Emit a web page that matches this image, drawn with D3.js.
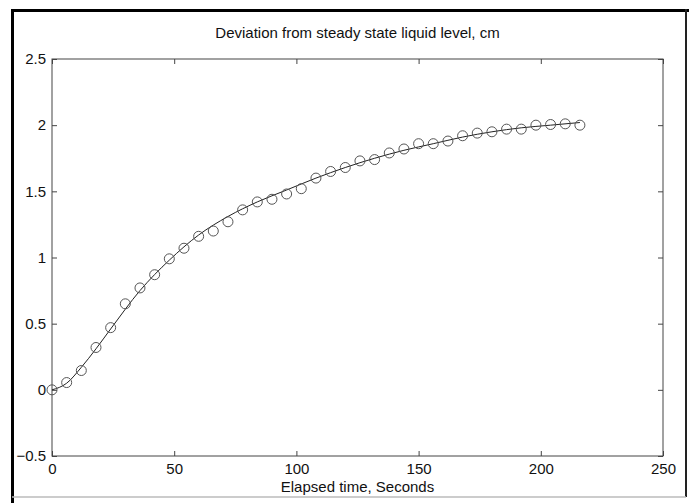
<!DOCTYPE html>
<html>
<head>
<meta charset="utf-8">
<script src="https://cdn.jsdelivr.net/npm/d3@7"></script>
<style>
  body { margin: 0; background: #fff; }
  svg text { font-family: "Liberation Sans", Arial, sans-serif; fill: #111; }
</style>
</head>
<body>
<div id="chart"></div>
<script>
// measured points (every 6 s)
var timePts = [0, 6, 12, 18, 24, 30, 36, 42, 48, 54, 60, 66, 72, 78, 84, 90, 96, 102,
  108, 114, 120, 126, 132, 138, 144, 150, 156, 162, 168, 174, 180, 186, 192, 198, 204, 210, 216];
var levelPts = [0, 0.055, 0.146, 0.32, 0.47, 0.65, 0.77, 0.87, 0.99, 1.07, 1.16, 1.20, 1.27, 1.36, 1.42, 1.44, 1.48, 1.52,
  1.60, 1.65, 1.68, 1.73, 1.74, 1.79, 1.82, 1.86, 1.86, 1.88, 1.92, 1.94, 1.95, 1.97, 1.97, 2.00, 2.005, 2.01, 2.00];

// fitted model curve
var timeFit = [0, 6, 12, 18, 24, 36, 48, 60, 72, 84, 96, 108, 120, 132, 144, 156, 168, 180, 192, 204, 216];
var levelFit = [0, 0.05, 0.17, 0.31, 0.46, 0.75, 0.98, 1.17, 1.31, 1.42, 1.51, 1.60, 1.68, 1.75, 1.81, 1.86, 1.91, 1.95, 1.98, 2.00, 2.02];

var xTicks = [0, 50, 100, 150, 200, 250];
var yTicks = [-0.5, 0, 0.5, 1, 1.5, 2, 2.5];

var width = 689, height = 503;
var margin = { top: 59, right: 26, bottom: 47, left: 52 };
var chartWidth = width - margin.left - margin.right;
var chartHeight = height - margin.top - margin.bottom;

var svg = d3.select("#chart").append("svg")
  .attr("width", width)
  .attr("height", height);

// outer frame
svg.append("line").attr("x1", 11).attr("x2", 689).attr("y1", 10.5).attr("y2", 10.5)
  .attr("stroke", "#000").attr("stroke-width", 3);
svg.append("line").attr("x1", 12.5).attr("x2", 12.5).attr("y1", 9).attr("y2", 503)
  .attr("stroke", "#000").attr("stroke-width", 3);
svg.append("line").attr("x1", 686).attr("x2", 686).attr("y1", 9).attr("y2", 497)
  .attr("stroke", "#222").attr("stroke-width", 2);
svg.append("line").attr("x1", 12).attr("x2", 686).attr("y1", 497).attr("y2", 497)
  .attr("stroke", "#bbb").attr("stroke-width", 1.5);

var chartGroup = svg.append("g")
  .attr("transform", `translate(${margin.left}, ${margin.top})`);

var x = d3.scaleLinear().domain([0, 250]).range([0, chartWidth]);
var y = d3.scaleLinear().domain([-0.5, 2.5]).range([chartHeight, 0]);

function styleAxis(g, showLabels) {
  g.select(".domain").remove();
  g.selectAll(".tick line").attr("stroke", "#444");
  g.selectAll(".tick text")
    .style("font-size", "15px")
    .style("display", showLabels ? null : "none");
}

chartGroup.append("g")
  .attr("transform", `translate(0,${chartHeight})`)
  .call(d3.axisBottom(x).tickValues(xTicks).tickSize(-5).tickPadding(7).tickFormat(d3.format("")))
  .call(g => styleAxis(g, true));
chartGroup.append("g")
  .call(d3.axisTop(x).tickValues(xTicks).tickSize(-5).tickFormat(""))
  .call(g => styleAxis(g, false));
chartGroup.append("g")
  .call(d3.axisLeft(y).tickValues(yTicks).tickSize(-5).tickPadding(6).tickFormat(d3.format("")))
  .call(g => styleAxis(g, true));
chartGroup.append("g")
  .attr("transform", `translate(${chartWidth},0)`)
  .call(d3.axisRight(y).tickValues(yTicks).tickSize(-5).tickFormat(""))
  .call(g => styleAxis(g, false));

// plot box
chartGroup.append("rect")
  .attr("width", chartWidth).attr("height", chartHeight)
  .attr("fill", "none").attr("stroke", "#444").attr("stroke-width", 1);

// fitted line
var fitData = timeFit.map((t, i) => [t, levelFit[i]]);
chartGroup.append("path")
  .datum(fitData)
  .attr("fill", "none")
  .attr("stroke", "#222")
  .attr("stroke-width", 1)
  .attr("d", d3.line().x(d => x(d[0])).y(d => y(d[1])).curve(d3.curveMonotoneX));

// measured circles
chartGroup.selectAll("circle")
  .data(timePts.map((t, i) => [t, levelPts[i]]))
  .enter()
  .append("circle")
  .attr("cx", d => x(d[0]))
  .attr("cy", d => y(d[1]))
  .attr("r", 5)
  .attr("fill", "none")
  .attr("stroke", "#555")
  .attr("stroke-width", 1);

// title and axis label
svg.append("text")
  .attr("x", margin.left + chartWidth / 2)
  .attr("y", 38)
  .attr("text-anchor", "middle")
  .style("font-size", "15px")
  .text("Deviation from steady state liquid level, cm");

svg.append("text")
  .attr("x", margin.left + chartWidth / 2)
  .attr("y", 492)
  .attr("text-anchor", "middle")
  .style("font-size", "15px")
  .text("Elapsed time, Seconds");
</script>
</body>
</html>
